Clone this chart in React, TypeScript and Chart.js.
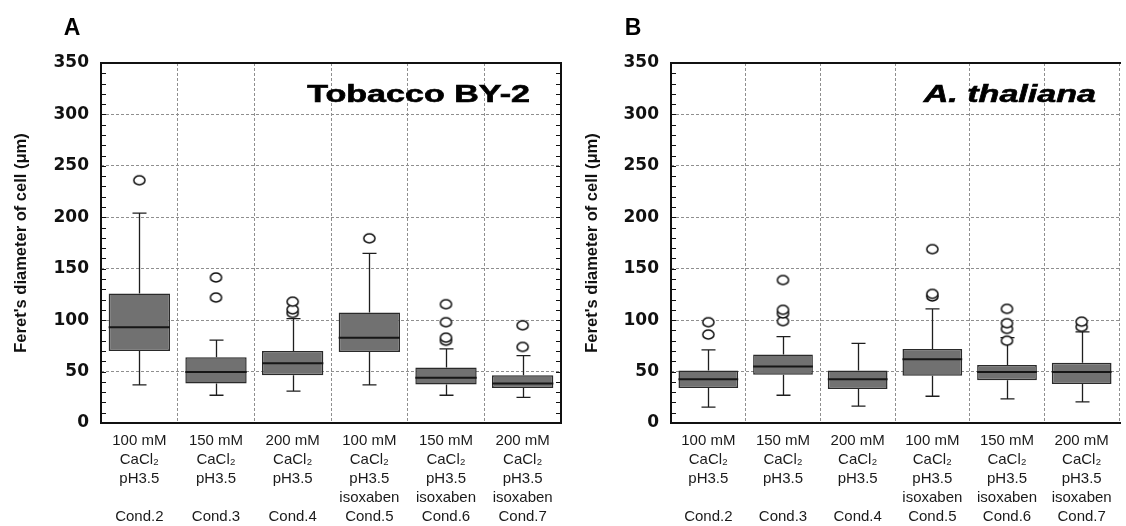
import React, { useEffect, useRef } from 'react';
import { Chart, registerables } from 'chart.js';
Chart.register(...registerables);

// ---------- data ----------
const CATEGORIES: string[][] = [
  ['100 mM', 'CaCl₂', 'pH3.5', '', 'Cond.2'],
  ['150 mM', 'CaCl₂', 'pH3.5', '', 'Cond.3'],
  ['200 mM', 'CaCl₂', 'pH3.5', '', 'Cond.4'],
  ['100 mM', 'CaCl₂', 'pH3.5', 'isoxaben', 'Cond.5'],
  ['150 mM', 'CaCl₂', 'pH3.5', 'isoxaben', 'Cond.6'],
  ['200 mM', 'CaCl₂', 'pH3.5', 'isoxaben', 'Cond.7'],
];
const Y_MIN = 0;
const Y_MAX = 350;
const Y_STEP = 50;
const Y_MINOR_STEP = 10;
const Y_TITLE = "Feret's diameter of cell (μm)";

// Panel A: Tobacco BY-2
const BY2_LOW = [37, 27, 31, 37, 27, 25];
const BY2_Q1 = [70, 38.5, 46.5, 69, 37.5, 34];
const BY2_MEDIAN = [93, 49.5, 58, 83, 44, 38.5];
const BY2_Q3 = [126, 64, 70, 107.5, 54, 46.5];
const BY2_HIGH = [204, 80.5, 101.5, 165, 72, 65.5];
const BY2_OUTLIERS = [[236], [141.5, 122], [118, 110.5, 107], [179.5], [115.5, 98, 83, 80], [95, 74]];

// Panel B: A. thaliana
const AT_LOW = [15.5, 27, 16.5, 26, 23.5, 20.5];
const AT_Q1 = [34, 47, 33, 46, 41.5, 38];
const AT_MEDIAN = [42.5, 55, 42.5, 62, 49.5, 49.5];
const AT_Q3 = [51, 66.5, 51, 72, 56.5, 58.5];
const AT_HIGH = [71, 84, 77.5, 111, 83, 88.5];
const AT_OUTLIERS = [[98, 86], [139, 110, 106.5, 99], [], [169, 125.5, 123], [111, 97, 91.5, 80], [98.5, 93.5]];

// ---------- layout / style ----------
const LAYOUT_A = {
  left: 0, width: 580, letter: 'A', letterX: 72, title: 'Tobacco BY-2', italic: false,
  titleInset: 31, yAxisWidth: 101, yTitlePad: 11.6, padRight: 19, rightFrame: true,
};
const LAYOUT_B = {
  left: 560, width: 566, letter: 'B', letterX: 73, title: 'A. thaliana', italic: true,
  titleInset: 23, yAxisWidth: 111, yTitlePad: 22.1, padRight: 0, rightFrame: false,
};
const SERIES_A = { low: BY2_LOW, q1: BY2_Q1, med: BY2_MEDIAN, q3: BY2_Q3, high: BY2_HIGH, out: BY2_OUTLIERS };
const SERIES_B = { low: AT_LOW, q1: AT_Q1, med: AT_MEDIAN, q3: AT_Q3, high: AT_HIGH, out: AT_OUTLIERS };

const CANVAS_H = 526;
const PLOT_TOP = 63;
const X_AXIS_H = 103;
const INK = '#111111';

function makeOutlierImage(): HTMLCanvasElement {
  const c = document.createElement('canvas');
  c.width = 15; c.height = 13;
  const ctx = c.getContext('2d')!;
  ctx.beginPath();
  ctx.ellipse(7.5, 6.5, 5.6, 4.4, 0, 0, Math.PI * 2);
  ctx.fillStyle = '#ffffff';
  ctx.fill();
  ctx.lineWidth = 1.5;
  ctx.strokeStyle = INK;
  ctx.stroke();
  return c;
}

function makeBoxPlugin(layout: any, series: any) {
  return {
    id: 'boxExtras' + layout.letter,
    beforeDatasetsDraw(chart: any) {
      const { ctx } = chart;
      const xs = chart.scales.x, ys = chart.scales.y;
      ctx.save();
      ctx.strokeStyle = '#1e1e1e';
      ctx.lineWidth = 1.3;
      const cap = 7;
      series.low.forEach((lo: number, i: number) => {
        const px = Math.round(xs.getPixelForValue(i)) + 0.5;
        const yLo = ys.getPixelForValue(lo);
        const yQ1 = ys.getPixelForValue(series.q1[i]);
        const yQ3 = ys.getPixelForValue(series.q3[i]);
        const yHi = ys.getPixelForValue(series.high[i]);
        ctx.beginPath();
        ctx.moveTo(px, yLo); ctx.lineTo(px, yQ1);
        ctx.moveTo(px, yQ3); ctx.lineTo(px, yHi);
        ctx.moveTo(px - cap, yLo); ctx.lineTo(px + cap, yLo);
        ctx.moveTo(px - cap, yHi); ctx.lineTo(px + cap, yHi);
        ctx.stroke();
      });
      ctx.restore();
    },
    afterDatasetsDraw(chart: any) {
      const { ctx } = chart;
      const ys = chart.scales.y;
      const meta = chart.getDatasetMeta(0);
      ctx.save();
      ctx.strokeStyle = '#161616';
      ctx.lineWidth = 2;
      series.med.forEach((m: number, i: number) => {
        const bar = meta.data[i];
        const half = bar.width / 2;
        const py = ys.getPixelForValue(m);
        ctx.beginPath();
        ctx.moveTo(bar.x - half, py);
        ctx.lineTo(bar.x + half, py);
        ctx.stroke();
      });
      ctx.restore();
    },
    afterDraw(chart: any) {
      const { ctx, chartArea } = chart;
      const ys = chart.scales.y;
      const { left, right, top, bottom } = chartArea;
      ctx.save();
      // minor ticks inside
      ctx.strokeStyle = INK;
      ctx.lineWidth = 1;
      for (let v = Y_MIN; v <= Y_MAX; v += Y_MINOR_STEP) {
        const py = Math.round(ys.getPixelForValue(v)) + 0.5;
        ctx.beginPath();
        ctx.moveTo(left, py); ctx.lineTo(left + 5, py);
        if (layout.rightFrame) { ctx.moveTo(right - 5, py); ctx.lineTo(right, py); }
        ctx.stroke();
      }
      // frame
      ctx.lineWidth = 2;
      ctx.beginPath();
      ctx.moveTo(left, top); ctx.lineTo(right + (layout.rightFrame ? 1 : 2), top);
      ctx.moveTo(left, top - 1); ctx.lineTo(left, bottom + 1);
      ctx.moveTo(left - 1, bottom); ctx.lineTo(right + (layout.rightFrame ? 1 : 2), bottom);
      if (layout.rightFrame) { ctx.moveTo(right, top - 1); ctx.lineTo(right, bottom + 1); }
      ctx.stroke();
      // panel title (stretched like the original figure)
      ctx.fillStyle = '#000';
      ctx.strokeStyle = '#000';
      ctx.lineWidth = 0.6;
      ctx.font = `${layout.italic ? 'italic ' : ''}bold 24px "Liberation Sans", Arial, sans-serif`;
      ctx.textAlign = 'right';
      ctx.textBaseline = 'alphabetic';
      ctx.save();
      ctx.translate(right - layout.titleInset, top + 39);
      ctx.scale(1.42, 1);
      ctx.fillText(layout.title, 0, 0);
      ctx.strokeText(layout.title, 0, 0);
      ctx.restore();
      // panel letter
      ctx.font = 'bold 23px "Liberation Sans", Arial, sans-serif';
      ctx.textAlign = 'center';
      ctx.fillText(layout.letter, layout.letterX, 35);
      ctx.restore();
    },
  };
}

function Panel({ layout, series }: { layout: any; series: any }) {
  const ref = useRef<HTMLCanvasElement | null>(null);
  useEffect(() => {
    if (!ref.current) return;
    const img = makeOutlierImage();
    const maxOut = Math.max(...series.out.map((a: number[]) => a.length));
    const outlierSets: any[] = [];
    for (let k = 0; k < maxOut; k++) {
      outlierSets.push({
        type: 'line',
        data: series.out.map((a: number[]) => (k < a.length ? a[k] : null)),
        showLine: false,
        spanGaps: false,
        pointStyle: img,
        pointRadius: 6,
        order: 0,
      });
    }
    const chart = new Chart(ref.current, {
      type: 'bar',
      data: {
        labels: CATEGORIES,
        datasets: [
          {
            type: 'bar',
            data: series.q1.map((v: number, i: number) => [v, series.q3[i]]),
            backgroundColor: '#717171',
            borderColor: '#2a2a2a',
            borderWidth: 1.5,
            borderSkipped: false,
            barPercentage: 0.8,
            categoryPercentage: 1,
            grouped: false,
            order: 1,
          } as any,
          ...outlierSets,
        ],
      },
      options: {
        responsive: false,
        animation: false,
        events: [],
        layout: { padding: { top: PLOT_TOP, right: layout.padRight, left: 0, bottom: 0 } },
        plugins: { legend: { display: false }, tooltip: { enabled: false } },
        scales: {
          x: {
            type: 'category',
            offset: true,
            grid: { offset: true, color: '#8f8f8f', lineWidth: 1, drawTicks: false },
            border: { display: false, dash: [3, 2] },
            ticks: {
              autoSkip: false, maxRotation: 0, minRotation: 0, padding: 8.5,
              color: '#1a1a1a',
              font: { family: '"Liberation Sans", Arial, sans-serif', size: 15, lineHeight: 1.27 },
            },
            afterFit: (s: any) => { s.height = X_AXIS_H; },
          },
          y: {
            type: 'linear',
            min: Y_MIN, max: Y_MAX,
            grid: { color: '#8f8f8f', lineWidth: 1, drawTicks: false },
            border: { display: false, dash: [3, 2] },
            ticks: {
              stepSize: Y_STEP, padding: 12, color: INK,
              font: { family: '"DejaVu Sans", sans-serif', size: 17, weight: 'bold' },
            },
            title: {
              display: true, text: Y_TITLE, color: INK,
              padding: { top: layout.yTitlePad, bottom: 0 },
              font: { family: '"Liberation Sans", Arial, sans-serif', size: 16.5, weight: 'bold', lineHeight: 1.2 },
            },
            afterFit: (s: any) => { s.width = layout.yAxisWidth; },
          },
        },
      } as any,
      plugins: [makeBoxPlugin(layout, series)],
    });
    return () => chart.destroy();
  }, []);
  return (
    <canvas
      ref={ref}
      width={layout.width}
      height={CANVAS_H}
      style={{ position: 'absolute', left: layout.left, top: 0, width: layout.width, height: CANVAS_H }}
    />
  );
}

export default function App() {
  return (
    <div style={{ position: 'fixed', left: 0, top: 0, width: 1126, height: 526, overflow: 'hidden', background: '#ffffff' }}>
      <Panel layout={LAYOUT_A} series={SERIES_A} />
      <Panel layout={LAYOUT_B} series={SERIES_B} />
    </div>
  );
}
